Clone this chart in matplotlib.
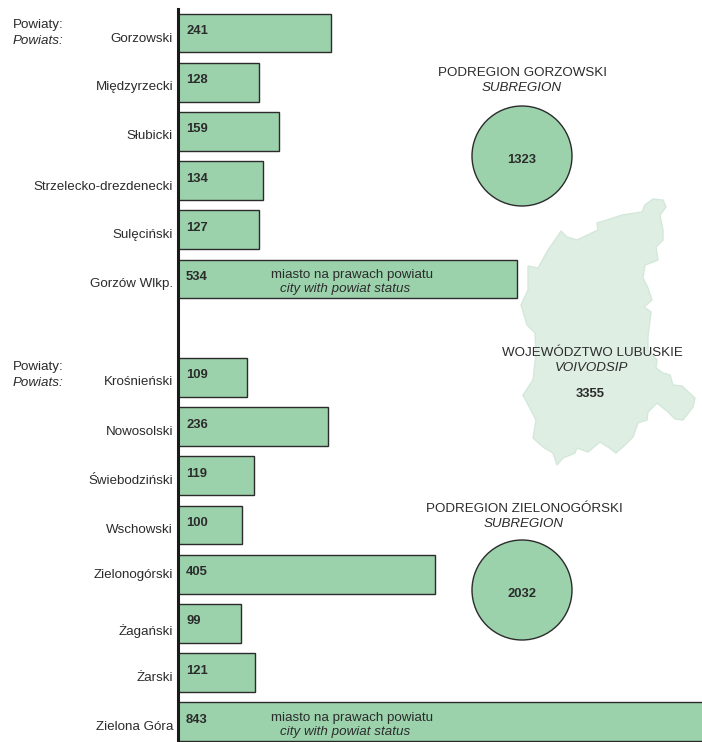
import numpy as np
import matplotlib
matplotlib.use("Agg")
import matplotlib.pyplot as plt
from matplotlib.patches import Circle, Polygon

plt.rcParams["font.family"] = ["Liberation Sans", "DejaVu Sans"]

W, H = 702, 742

# Read Data
names_gorz = ["Gorzowski", "Międzyrzecki", "Słubicki", "Strzelecko-drezdenecki", "Sulęciński", "Gorzów Wlkp."]
values_gorz = [241, 128, 159, 134, 127, 534]
names_ziel = ["Krośnieński", "Nowosolski", "Świebodziński", "Wschowski", "Zielonogórski",
              "Żagański", "Żarski", "Zielona Góra"]
values_ziel = [109, 236, 119, 100, 405, 99, 121, 843]
city_names = ["Gorzów Wlkp.", "Zielona Góra"]
subregion_totals = [1323, 2032]
voivodship_total = 3355

# outline of the voivodship, traced in pixels of the picture
map_x = [653, 663, 666, 660, 663, 663, 656, 658, 645, 643, 648, 652, 644, 651, 648, 648, 657, 656,
         663, 670, 673, 682, 695, 693, 683, 675, 668, 657, 648, 647, 638, 633, 625, 616, 608, 600,
         588, 577, 575, 563, 557, 553, 543, 533, 536, 523, 533, 536, 535, 527, 521, 528, 528, 538,
         548, 555, 561, 567, 577, 598, 597, 607, 622, 642, 645]
map_y = [199, 200, 207, 215, 230, 240, 247, 260, 265, 278, 288, 300, 307, 312, 337, 350, 360, 368,
         373, 375, 385, 386, 398, 407, 420, 419, 412, 403, 412, 420, 423, 437, 445, 453, 447, 442,
         452, 448, 453, 458, 465, 453, 447, 438, 420, 395, 380, 353, 333, 325, 305, 290, 266, 268,
         250, 240, 231, 237, 240, 230, 223, 220, 215, 212, 205]

fig = plt.figure(figsize=(W / 100, H / 100), dpi=100)

# overlay in picture pixels for the map and the circles
bg = fig.add_axes([0, 0, 1, 1])
bg.set_xlim(0, W)
bg.set_ylim(H, 0)
bg.axis("off")

ax = fig.add_axes([0, 0, 1, 1], facecolor="none")
px_per_unit = 0.635
row_h = 49.2
ax.set_xlim(-178 / px_per_unit, (W - 178) / px_per_unit)
ax.set_ylim((H - 33) / row_h, -33 / row_h)
ax.axis("off")

rows_gorz = np.arange(len(values_gorz))
rows_ziel = np.arange(len(values_ziel)) + len(values_gorz) + 1
rows = np.concatenate([rows_gorz, rows_ziel])
names = names_gorz + names_ziel
values = values_gorz + values_ziel

bg.add_patch(Polygon(np.column_stack([map_x, map_y]), closed=True, fc="#deeee3", ec="#d3e8da", lw=1))

ax.barh(rows, values, height=0.79, color="#9bd2ac", edgecolor="#2b2b2b", linewidth=1)
ax.axvline(0, ymin=0, ymax=1 - 9 / H, color="#1a1a1a", linewidth=2.2)

txt = "#2b2b2b"
for r, n, v in zip(rows, names, values):
    nudge = 8 if n == "Żagański" else (1 if n == "Zielonogórski" else 5)
    if n == "Strzelecko-drezdenecki" or n == "Gorzowski":
        nudge = 6
    ax.annotate(n, (0, r), xytext=(-5, -nudge), textcoords="offset pixels", ha="right", va="center",
                fontsize=9.6, color=txt)
    ax.annotate(str(v), (0, r), xytext=(8, 2), textcoords="offset pixels", ha="left", va="center",
                fontsize=9.4, fontweight="bold", color=txt)
    if n in city_names:
        ax.annotate("miasto na prawach powiatu", (0, r), xytext=(174, 4), textcoords="offset pixels", ha="center",
                    va="center", fontsize=9.6, color=txt)
        ax.annotate("city with powiat status", (0, r), xytext=(167, -10), textcoords="offset pixels", ha="center",
                    va="center", fontsize=9.6, style="italic", color=txt)

# Powiaty headers
for y in [25, 367]:
    bg.text(13, y, "Powiaty:", ha="left", va="center", fontsize=9.6, color=txt)
    bg.text(13, y + 16, "Powiats:", ha="left", va="center", fontsize=9.6, style="italic", color=txt)

# subregion circles
for cx, cy, tx, ty, title, total in [(522, 156, 522, 73, "PODREGION GORZOWSKI", subregion_totals[0]),
                                     (522, 590, 524, 509, "PODREGION ZIELONOGÓRSKI", subregion_totals[1])]:
    bg.add_patch(Circle((cx, cy), 50, fc="#9bd2ac", ec="#2b2b2b", lw=1))
    bg.text(tx, ty, title, ha="center", va="center", fontsize=9.6, color=txt)
    bg.text(tx, ty + 15, "SUBREGION", ha="center", va="center", fontsize=9.6, style="italic", color=txt)
    bg.text(cx, cy + 4, str(total), ha="center", va="center", fontsize=9.4, fontweight="bold", color=txt)

bg.text(592, 353, "WOJEWÓDZTWO LUBUSKIE", ha="center", va="center", fontsize=9.6, color=txt)
bg.text(592, 368, "VOIVODSIP", ha="center", va="center", fontsize=9.6, style="italic", color=txt)
bg.text(590, 394, str(voivodship_total), ha="center", va="center", fontsize=9.4, fontweight="bold", color=txt)

fig.savefig("out.png", dpi=100)
